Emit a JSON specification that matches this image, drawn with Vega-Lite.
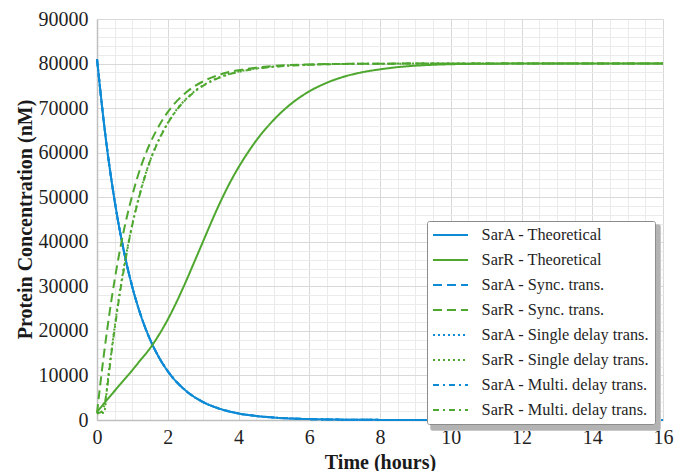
{
  "$schema": "https://vega.github.io/schema/vega-lite/v6.json",
  "width": 566,
  "height": 401,
  "autosize": {"type": "none"},
  "padding": {"left": 97, "top": 19, "right": 12, "bottom": 51},
  "background": "white",
  "config": {
    "font": "Liberation Serif",
    "view": {"stroke": null},
    "axis": {"labelFont": "Liberation Serif", "titleFont": "Liberation Serif"}
  },
  "data": {
    "values": [
      {"series": "SarA - Theoretical", "t": 0, "v": 81000},
      {"series": "SarA - Theoretical", "t": 0.25, "v": 63080},
      {"series": "SarA - Theoretical", "t": 0.5, "v": 49130},
      {"series": "SarA - Theoretical", "t": 0.75, "v": 38260},
      {"series": "SarA - Theoretical", "t": 1, "v": 29800},
      {"series": "SarA - Theoretical", "t": 1.25, "v": 23210},
      {"series": "SarA - Theoretical", "t": 1.5, "v": 18070},
      {"series": "SarA - Theoretical", "t": 1.75, "v": 14080},
      {"series": "SarA - Theoretical", "t": 2, "v": 10960},
      {"series": "SarA - Theoretical", "t": 2.5, "v": 6650},
      {"series": "SarA - Theoretical", "t": 3, "v": 4030},
      {"series": "SarA - Theoretical", "t": 3.5, "v": 2450},
      {"series": "SarA - Theoretical", "t": 4, "v": 1480},
      {"series": "SarA - Theoretical", "t": 4.5, "v": 900},
      {"series": "SarA - Theoretical", "t": 5, "v": 550},
      {"series": "SarA - Theoretical", "t": 5.5, "v": 330},
      {"series": "SarA - Theoretical", "t": 6, "v": 200},
      {"series": "SarA - Theoretical", "t": 7, "v": 74},
      {"series": "SarA - Theoretical", "t": 8, "v": 27},
      {"series": "SarA - Theoretical", "t": 9, "v": 10},
      {"series": "SarA - Theoretical", "t": 10, "v": 4},
      {"series": "SarA - Theoretical", "t": 12, "v": 0},
      {"series": "SarA - Theoretical", "t": 14, "v": 0},
      {"series": "SarA - Theoretical", "t": 16, "v": 0},

      {"series": "SarA - Sync. trans.", "t": 0, "v": 81000},
      {"series": "SarA - Sync. trans.", "t": 0.25, "v": 63080},
      {"series": "SarA - Sync. trans.", "t": 0.5, "v": 49130},
      {"series": "SarA - Sync. trans.", "t": 0.75, "v": 38260},
      {"series": "SarA - Sync. trans.", "t": 1, "v": 29800},
      {"series": "SarA - Sync. trans.", "t": 1.25, "v": 23210},
      {"series": "SarA - Sync. trans.", "t": 1.5, "v": 18070},
      {"series": "SarA - Sync. trans.", "t": 1.75, "v": 14080},
      {"series": "SarA - Sync. trans.", "t": 2, "v": 10960},
      {"series": "SarA - Sync. trans.", "t": 2.5, "v": 6650},
      {"series": "SarA - Sync. trans.", "t": 3, "v": 4030},
      {"series": "SarA - Sync. trans.", "t": 3.5, "v": 2450},
      {"series": "SarA - Sync. trans.", "t": 4, "v": 1480},
      {"series": "SarA - Sync. trans.", "t": 4.5, "v": 900},
      {"series": "SarA - Sync. trans.", "t": 5, "v": 550},
      {"series": "SarA - Sync. trans.", "t": 5.5, "v": 330},
      {"series": "SarA - Sync. trans.", "t": 6, "v": 200},
      {"series": "SarA - Sync. trans.", "t": 7, "v": 74},
      {"series": "SarA - Sync. trans.", "t": 8, "v": 27},
      {"series": "SarA - Sync. trans.", "t": 9, "v": 10},
      {"series": "SarA - Sync. trans.", "t": 10, "v": 4},
      {"series": "SarA - Sync. trans.", "t": 12, "v": 0},
      {"series": "SarA - Sync. trans.", "t": 14, "v": 0},
      {"series": "SarA - Sync. trans.", "t": 16, "v": 0},

      {"series": "SarA - Single delay trans.", "t": 0, "v": 81000},
      {"series": "SarA - Single delay trans.", "t": 0.25, "v": 63080},
      {"series": "SarA - Single delay trans.", "t": 0.5, "v": 49130},
      {"series": "SarA - Single delay trans.", "t": 0.75, "v": 38260},
      {"series": "SarA - Single delay trans.", "t": 1, "v": 29800},
      {"series": "SarA - Single delay trans.", "t": 1.25, "v": 23210},
      {"series": "SarA - Single delay trans.", "t": 1.5, "v": 18070},
      {"series": "SarA - Single delay trans.", "t": 1.75, "v": 14080},
      {"series": "SarA - Single delay trans.", "t": 2, "v": 10960},
      {"series": "SarA - Single delay trans.", "t": 2.5, "v": 6650},
      {"series": "SarA - Single delay trans.", "t": 3, "v": 4030},
      {"series": "SarA - Single delay trans.", "t": 3.5, "v": 2450},
      {"series": "SarA - Single delay trans.", "t": 4, "v": 1480},
      {"series": "SarA - Single delay trans.", "t": 4.5, "v": 900},
      {"series": "SarA - Single delay trans.", "t": 5, "v": 550},
      {"series": "SarA - Single delay trans.", "t": 5.5, "v": 330},
      {"series": "SarA - Single delay trans.", "t": 6, "v": 200},
      {"series": "SarA - Single delay trans.", "t": 7, "v": 74},
      {"series": "SarA - Single delay trans.", "t": 8, "v": 27},
      {"series": "SarA - Single delay trans.", "t": 9, "v": 10},
      {"series": "SarA - Single delay trans.", "t": 10, "v": 4},
      {"series": "SarA - Single delay trans.", "t": 12, "v": 0},
      {"series": "SarA - Single delay trans.", "t": 14, "v": 0},
      {"series": "SarA - Single delay trans.", "t": 16, "v": 0},

      {"series": "SarA - Multi. delay trans.", "t": 0, "v": 81000},
      {"series": "SarA - Multi. delay trans.", "t": 0.25, "v": 63080},
      {"series": "SarA - Multi. delay trans.", "t": 0.5, "v": 49130},
      {"series": "SarA - Multi. delay trans.", "t": 0.75, "v": 38260},
      {"series": "SarA - Multi. delay trans.", "t": 1, "v": 29800},
      {"series": "SarA - Multi. delay trans.", "t": 1.25, "v": 23210},
      {"series": "SarA - Multi. delay trans.", "t": 1.5, "v": 18070},
      {"series": "SarA - Multi. delay trans.", "t": 1.75, "v": 14080},
      {"series": "SarA - Multi. delay trans.", "t": 2, "v": 10960},
      {"series": "SarA - Multi. delay trans.", "t": 2.5, "v": 6650},
      {"series": "SarA - Multi. delay trans.", "t": 3, "v": 4030},
      {"series": "SarA - Multi. delay trans.", "t": 3.5, "v": 2450},
      {"series": "SarA - Multi. delay trans.", "t": 4, "v": 1480},
      {"series": "SarA - Multi. delay trans.", "t": 4.5, "v": 900},
      {"series": "SarA - Multi. delay trans.", "t": 5, "v": 550},
      {"series": "SarA - Multi. delay trans.", "t": 5.5, "v": 330},
      {"series": "SarA - Multi. delay trans.", "t": 6, "v": 200},
      {"series": "SarA - Multi. delay trans.", "t": 7, "v": 74},
      {"series": "SarA - Multi. delay trans.", "t": 8, "v": 27},
      {"series": "SarA - Multi. delay trans.", "t": 9, "v": 10},
      {"series": "SarA - Multi. delay trans.", "t": 10, "v": 4},
      {"series": "SarA - Multi. delay trans.", "t": 12, "v": 0},
      {"series": "SarA - Multi. delay trans.", "t": 14, "v": 0},
      {"series": "SarA - Multi. delay trans.", "t": 16, "v": 0},

      {"series": "SarR - Theoretical", "t": 0, "v": 1800},
      {"series": "SarR - Theoretical", "t": 0.25, "v": 4200},
      {"series": "SarR - Theoretical", "t": 0.5, "v": 6550},
      {"series": "SarR - Theoretical", "t": 0.75, "v": 8880},
      {"series": "SarR - Theoretical", "t": 1, "v": 11200},
      {"series": "SarR - Theoretical", "t": 1.25, "v": 13650},
      {"series": "SarR - Theoretical", "t": 1.5, "v": 16100},
      {"series": "SarR - Theoretical", "t": 1.75, "v": 19100},
      {"series": "SarR - Theoretical", "t": 2, "v": 22550},
      {"series": "SarR - Theoretical", "t": 2.25, "v": 26500},
      {"series": "SarR - Theoretical", "t": 2.5, "v": 30850},
      {"series": "SarR - Theoretical", "t": 2.75, "v": 35450},
      {"series": "SarR - Theoretical", "t": 3, "v": 40100},
      {"series": "SarR - Theoretical", "t": 3.25, "v": 44750},
      {"series": "SarR - Theoretical", "t": 3.5, "v": 49150},
      {"series": "SarR - Theoretical", "t": 3.75, "v": 53150},
      {"series": "SarR - Theoretical", "t": 4, "v": 56700},
      {"series": "SarR - Theoretical", "t": 4.25, "v": 59850},
      {"series": "SarR - Theoretical", "t": 4.5, "v": 62700},
      {"series": "SarR - Theoretical", "t": 4.75, "v": 65200},
      {"series": "SarR - Theoretical", "t": 5, "v": 67400},
      {"series": "SarR - Theoretical", "t": 5.25, "v": 69350},
      {"series": "SarR - Theoretical", "t": 5.5, "v": 71050},
      {"series": "SarR - Theoretical", "t": 6, "v": 73750},
      {"series": "SarR - Theoretical", "t": 6.5, "v": 75700},
      {"series": "SarR - Theoretical", "t": 7, "v": 77100},
      {"series": "SarR - Theoretical", "t": 7.5, "v": 78050},
      {"series": "SarR - Theoretical", "t": 8, "v": 78700},
      {"series": "SarR - Theoretical", "t": 8.5, "v": 79200},
      {"series": "SarR - Theoretical", "t": 9, "v": 79520},
      {"series": "SarR - Theoretical", "t": 9.5, "v": 79720},
      {"series": "SarR - Theoretical", "t": 10, "v": 79850},
      {"series": "SarR - Theoretical", "t": 11, "v": 79960},
      {"series": "SarR - Theoretical", "t": 12, "v": 80000},
      {"series": "SarR - Theoretical", "t": 14, "v": 80000},
      {"series": "SarR - Theoretical", "t": 16, "v": 80000},

      {"series": "SarR - Sync. trans.", "t": 0, "v": 1500},
      {"series": "SarR - Sync. trans.", "t": 0.1, "v": 8500},
      {"series": "SarR - Sync. trans.", "t": 0.2, "v": 15000},
      {"series": "SarR - Sync. trans.", "t": 0.3, "v": 21000},
      {"series": "SarR - Sync. trans.", "t": 0.4, "v": 26500},
      {"series": "SarR - Sync. trans.", "t": 0.5, "v": 31500},
      {"series": "SarR - Sync. trans.", "t": 0.75, "v": 42200},
      {"series": "SarR - Sync. trans.", "t": 1, "v": 50500},
      {"series": "SarR - Sync. trans.", "t": 1.25, "v": 57100},
      {"series": "SarR - Sync. trans.", "t": 1.5, "v": 62100},
      {"series": "SarR - Sync. trans.", "t": 1.75, "v": 66000},
      {"series": "SarR - Sync. trans.", "t": 2, "v": 69100},
      {"series": "SarR - Sync. trans.", "t": 2.5, "v": 73400},
      {"series": "SarR - Sync. trans.", "t": 3, "v": 76000},
      {"series": "SarR - Sync. trans.", "t": 3.5, "v": 77600},
      {"series": "SarR - Sync. trans.", "t": 4, "v": 78500},
      {"series": "SarR - Sync. trans.", "t": 5, "v": 79450},
      {"series": "SarR - Sync. trans.", "t": 6, "v": 79800},
      {"series": "SarR - Sync. trans.", "t": 7, "v": 79930},
      {"series": "SarR - Sync. trans.", "t": 8, "v": 79980},
      {"series": "SarR - Sync. trans.", "t": 10, "v": 80000},
      {"series": "SarR - Sync. trans.", "t": 12, "v": 80000},
      {"series": "SarR - Sync. trans.", "t": 16, "v": 80000},

      {"series": "SarR - Single delay trans.", "t": 0, "v": 1500},
      {"series": "SarR - Single delay trans.", "t": 0.2, "v": 1600},
      {"series": "SarR - Single delay trans.", "t": 0.3, "v": 8500},
      {"series": "SarR - Single delay trans.", "t": 0.4, "v": 15000},
      {"series": "SarR - Single delay trans.", "t": 0.5, "v": 21000},
      {"series": "SarR - Single delay trans.", "t": 0.6, "v": 26500},
      {"series": "SarR - Single delay trans.", "t": 0.7, "v": 31500},
      {"series": "SarR - Single delay trans.", "t": 0.95, "v": 42200},
      {"series": "SarR - Single delay trans.", "t": 1.2, "v": 50500},
      {"series": "SarR - Single delay trans.", "t": 1.45, "v": 57100},
      {"series": "SarR - Single delay trans.", "t": 1.7, "v": 62100},
      {"series": "SarR - Single delay trans.", "t": 1.95, "v": 66000},
      {"series": "SarR - Single delay trans.", "t": 2.2, "v": 69100},
      {"series": "SarR - Single delay trans.", "t": 2.7, "v": 73400},
      {"series": "SarR - Single delay trans.", "t": 3.2, "v": 76000},
      {"series": "SarR - Single delay trans.", "t": 3.7, "v": 77600},
      {"series": "SarR - Single delay trans.", "t": 4.2, "v": 78500},
      {"series": "SarR - Single delay trans.", "t": 5.2, "v": 79450},
      {"series": "SarR - Single delay trans.", "t": 6.2, "v": 79800},
      {"series": "SarR - Single delay trans.", "t": 7.2, "v": 79930},
      {"series": "SarR - Single delay trans.", "t": 8.2, "v": 79980},
      {"series": "SarR - Single delay trans.", "t": 10, "v": 80000},
      {"series": "SarR - Single delay trans.", "t": 16, "v": 80000},

      {"series": "SarR - Multi. delay trans.", "t": 0, "v": 1500},
      {"series": "SarR - Multi. delay trans.", "t": 0.1, "v": 1700},
      {"series": "SarR - Multi. delay trans.", "t": 0.2, "v": 3000},
      {"series": "SarR - Multi. delay trans.", "t": 0.3, "v": 8000},
      {"series": "SarR - Multi. delay trans.", "t": 0.4, "v": 14500},
      {"series": "SarR - Multi. delay trans.", "t": 0.5, "v": 20500},
      {"series": "SarR - Multi. delay trans.", "t": 0.6, "v": 26000},
      {"series": "SarR - Multi. delay trans.", "t": 0.7, "v": 31000},
      {"series": "SarR - Multi. delay trans.", "t": 0.95, "v": 42000},
      {"series": "SarR - Multi. delay trans.", "t": 1.2, "v": 50300},
      {"series": "SarR - Multi. delay trans.", "t": 1.45, "v": 57000},
      {"series": "SarR - Multi. delay trans.", "t": 1.7, "v": 62000},
      {"series": "SarR - Multi. delay trans.", "t": 1.95, "v": 65900},
      {"series": "SarR - Multi. delay trans.", "t": 2.2, "v": 69000},
      {"series": "SarR - Multi. delay trans.", "t": 2.7, "v": 73300},
      {"series": "SarR - Multi. delay trans.", "t": 3.2, "v": 75900},
      {"series": "SarR - Multi. delay trans.", "t": 3.7, "v": 77500},
      {"series": "SarR - Multi. delay trans.", "t": 4.2, "v": 78450},
      {"series": "SarR - Multi. delay trans.", "t": 5.2, "v": 79400},
      {"series": "SarR - Multi. delay trans.", "t": 6.2, "v": 79780},
      {"series": "SarR - Multi. delay trans.", "t": 7.2, "v": 79920},
      {"series": "SarR - Multi. delay trans.", "t": 8.2, "v": 79970},
      {"series": "SarR - Multi. delay trans.", "t": 10, "v": 80000},
      {"series": "SarR - Multi. delay trans.", "t": 16, "v": 80000}
    ]
  },
  "layer": [
    {
      "mark": {"type": "point", "opacity": 0, "size": 1},
      "encoding": {
        "x": {
          "field": "t", "type": "quantitative",
          "scale": {"domain": [0, 16], "nice": false, "zero": true},
          "axis": {
            "orient": "top", "title": null, "labels": false, "ticks": false, "domain": false,
            "grid": true, "gridColor": "#ebebeb", "gridWidth": 1,
            "values": [0.5, 1, 1.5, 2.5, 3, 3.5, 4.5, 5, 5.5, 6.5, 7, 7.5, 8.5, 9, 9.5, 10.5, 11, 11.5, 12.5, 13, 13.5, 14.5, 15, 15.5]
          }
        },
        "y": {
          "field": "v", "type": "quantitative",
          "scale": {"domain": [0, 90000], "nice": false},
          "axis": {
            "orient": "right", "title": null, "labels": false, "ticks": false, "domain": false,
            "grid": true, "gridColor": "#ebebeb", "gridWidth": 1,
            "values": [2000, 4000, 6000, 8000, 12000, 14000, 16000, 18000, 22000, 24000, 26000, 28000, 32000, 34000, 36000, 38000, 42000, 44000, 46000, 48000, 52000, 54000, 56000, 58000, 62000, 64000, 66000, 68000, 72000, 74000, 76000, 78000, 82000, 84000, 86000, 88000]
          }
        },
        "shape": {
          "field": "series", "type": "nominal",
          "scale": {
            "domain": ["SarR - Multi. delay trans.", "SarA - Multi. delay trans.", "SarR - Single delay trans.", "SarA - Single delay trans.", "SarR - Sync. trans.", "SarA - Sync. trans.", "SarR - Theoretical", "SarA - Theoretical"]
          },
          "legend": {
            "title": null, "orient": "none", "legendX": 333, "legendY": 205, "zindex": 0,
            "symbolType": "M-1,0H3.375", "symbolSize": 256, "symbolStrokeWidth": 2, "symbolOpacity": 0,
            "labelExpr": "''", "labelFontSize": 16.3,
            "labelOffset": 202, "rowPadding": 7.5, "padding": 5,
            "fillColor": "#b3b3b3", "strokeColor": "#c8c8c8", "cornerRadius": 2
          }
        }
      }
    },
    {
      "mark": {"type": "line", "strokeWidth": 2, "interpolate": "monotone"},
      "encoding": {
        "x": {
          "field": "t", "type": "quantitative",
          "axis": {
            "orient": "bottom", "values": [0, 2, 4, 6, 8, 10, 12, 14, 16],
            "grid": true, "gridColor": "#d9d9d9", "gridWidth": 1,
            "domain": true, "domainColor": "#bfbfbf", "domainWidth": 1.5,
            "ticks": false, "labelFontSize": 20, "labelColor": "#1f1f1f", "labelPadding": 7,
            "labelFlush": false, "labelFont": "Liberation Serif",
            "title": "Time (hours)", "titleFontSize": 20, "titleFontWeight": "bold", "titleColor": "#1a1a1a",
            "titleBaseline": "alphabetic", "titleY": 48, "titleX": 283, "titleAnchor": "middle", "titleAlign": "center"
          }
        },
        "y": {
          "field": "v", "type": "quantitative",
          "axis": {
            "orient": "left", "values": [0, 10000, 20000, 30000, 40000, 50000, 60000, 70000, 80000, 90000],
            "format": "d",
            "grid": true, "gridColor": "#d9d9d9", "gridWidth": 1,
            "domain": true, "domainColor": "#bfbfbf", "domainWidth": 1.5,
            "ticks": false, "labelFontSize": 20, "labelColor": "#1f1f1f", "labelPadding": 9,
            "labelFlush": false, "labelFont": "Liberation Serif",
            "title": "Protein Concentration (nM)", "titleFontSize": 20, "titleFontWeight": "bold", "titleColor": "#1a1a1a",
            "titleAngle": 270, "titleBaseline": "alphabetic", "titleX": -66, "titleY": 200, "titleAlign": "center"
          }
        },
        "color": {
          "field": "series", "type": "nominal",
          "scale": {
            "domain": ["SarA - Theoretical", "SarR - Theoretical", "SarA - Sync. trans.", "SarR - Sync. trans.", "SarA - Single delay trans.", "SarR - Single delay trans.", "SarA - Multi. delay trans.", "SarR - Multi. delay trans."],
            "range": ["#0f8bd6", "#4ea72e", "#0f8bd6", "#4ea72e", "#0f8bd6", "#4ea72e", "#0f8bd6", "#4ea72e"]
          },
          "legend": {
            "title": null, "orient": "none", "legendX": 330, "legendY": 202, "zindex": 2,
            "symbolType": "M-1,0H3.375", "symbolSize": 256, "symbolStrokeWidth": 2,
            "labelFont": "Liberation Serif", "labelFontSize": 16.3, "labelColor": "#1f1f1f",
            "labelOffset": 31.6, "rowPadding": 7, "padding": 5, "labelLimit": 300,
            "fillColor": "white", "strokeColor": "#8c8c8c", "cornerRadius": 2
          }
        },
        "strokeDash": {
          "field": "series", "type": "nominal",
          "scale": {
            "domain": ["SarA - Theoretical", "SarR - Theoretical", "SarA - Sync. trans.", "SarR - Sync. trans.", "SarA - Single delay trans.", "SarR - Single delay trans.", "SarA - Multi. delay trans.", "SarR - Multi. delay trans."],
            "range": [[1, 0], [1, 0], [9, 5], [9, 5], [2, 3], [2, 3], [6, 4, 2, 4], [6, 4, 2, 4]]
          },
          "legend": {
            "title": null, "orient": "none", "legendX": 330, "legendY": 202, "zindex": 2,
            "symbolType": "M-1,0H3.375", "symbolSize": 256, "symbolStrokeWidth": 2,
            "labelFont": "Liberation Serif", "labelFontSize": 16.3, "labelColor": "#1f1f1f",
            "labelOffset": 31.6, "rowPadding": 7, "padding": 5, "labelLimit": 300,
            "fillColor": "white", "strokeColor": "#8c8c8c", "cornerRadius": 2
          }
        }
      }
    }
  ]
}
